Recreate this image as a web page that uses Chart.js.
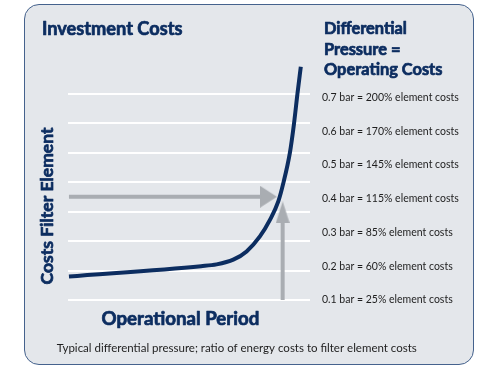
<!DOCTYPE html>
<html>
<head>
<meta charset="utf-8">
<script src="https://cdn.jsdelivr.net/npm/chart.js@4"></script>
<style>
  body { margin: 0; background: #fff; }
  #panel {
    position: absolute; left: 24px; top: 4px; width: 450px; height: 361px;
    box-sizing: border-box; border: 1.5px solid #45628d; border-radius: 15px;
    background: #e4e7eb;
  }
  #myChart { position: absolute; left: 0; top: 0; }
</style>
</head>
<body>
<div id="panel"></div>
<canvas id="myChart" width="500" height="375"></canvas>
<script>
// curve: operational period (0-100) vs cost level (grid units 0-7)
var curveX = [0.4, 55, 61.4, 68.3, 73.8, 79.3, 83.5, 86.9, 89.0, 91.7, 93.4, 94.8, 96.2];
var curveY = [0.80, 1.15, 1.21, 1.37, 1.65, 2.16, 2.73, 3.35, 3.98, 5.01, 6.00, 7.00, 7.93];

// grey arrows
var hArrowX = [0.4, 79.8];
var hArrowY = [3.51, 3.51];
var hHead = { x: 82.8, y: 3.51 };
var vArrowX = [88.7, 88.7];
var vArrowY = [0, 2.65];
var vHead = { x: 88.7, y: 2.98 };

// right-hand tick labels (differential pressure)
var pressureTicks = [0.1, 0.2, 0.3, 0.4, 0.5, 0.6, 0.7];
var pressureLabels = [
  '0.1 bar = 25% element costs',
  '0.2 bar = 60% element costs',
  '0.3 bar = 85% element costs',
  '0.4 bar = 115% element costs',
  '0.5 bar = 145% element costs',
  '0.6 bar = 170% element costs',
  '0.7 bar = 200% element costs'
];

var navy = '#0c2d60';
var grey = '#a9adb2';

function pts(xs, ys) {
  return xs.map(function (x, i) { return { x: x, y: ys[i] }; });
}

// arrow heads as small canvases used as point styles
function head(w, h, dir) {
  var c = document.createElement('canvas');
  c.width = w; c.height = h;
  var g = c.getContext('2d');
  g.fillStyle = grey;
  g.beginPath();
  if (dir === 'right') {
    g.moveTo(0, 0); g.lineTo(w, h / 2); g.lineTo(0, h);
  } else {
    g.moveTo(0, h); g.lineTo(w / 2, 0); g.lineTo(w, h);
  }
  g.closePath();
  g.fill();
  return c;
}

// heavy text: fill plus a thin stroke to thicken Lato Bold
function heavy(c, s, x, y) {
  c.fillText(s, x, y);
  c.strokeText(s, x, y);
}

var texts = {
  id: 'texts',
  afterDraw: function (chart) {
    var c = chart.ctx;
    c.save();
    c.fillStyle = navy;
    c.strokeStyle = navy;
    c.lineWidth = 0.7;
    c.lineJoin = 'round';
    c.textBaseline = 'alphabetic';
    c.textAlign = 'left';
    c.font = 'bold 18.2px Lato';
    heavy(c, 'Investment Costs', 42, 35);
    c.font = 'bold 16.4px Lato';
    heavy(c, 'Differential', 324, 34.3);
    heavy(c, 'Pressure =', 324, 54.6);
    heavy(c, 'Operating Costs', 324, 75);
    c.font = 'bold 18.7px Lato';
    heavy(c, 'Operational Period', 101.5, 325);
    c.save();
    c.translate(53.3, 206);
    c.rotate(-Math.PI / 2);
    c.textAlign = 'center';
    c.font = 'bold 17.5px Lato';
    heavy(c, 'Costs Filter Element', 0, 0);
    c.restore();
    c.fillStyle = '#1e1e1e';
    c.font = '11.5px Lato';
    c.fillText('Typical differential pressure; ratio of energy costs to filter element costs', 56.7, 351.7);
    c.restore();
  }
};

var ctx = document.getElementById('myChart').getContext('2d');
var myChart = new Chart(ctx, {
  type: 'line',
  data: {
    datasets: [{
      data: pts(curveX, curveY),
      borderColor: navy,
      borderWidth: 4,
      pointRadius: 0,
      cubicInterpolationMode: 'monotone',
      clip: false
    },
    {
      data: pts(hArrowX, hArrowY),
      borderColor: grey,
      borderWidth: 4,
      pointRadius: 0
    },
    {
      data: [hHead],
      showLine: false,
      pointStyle: head(17, 22, 'right'),
      pointRadius: 10
    },
    {
      data: pts(vArrowX, vArrowY),
      borderColor: grey,
      borderWidth: 4,
      pointRadius: 0
    },
    {
      data: [vHead],
      showLine: false,
      pointStyle: head(14, 22, 'up'),
      pointRadius: 10
    }]
  },
  options: {
    responsive: false,
    animation: false,
    layout: { padding: { left: 30, right: 30, top: 94, bottom: 20 } },
    plugins: { legend: { display: false }, tooltip: { enabled: false } },
    scales: {
      x: {
        type: 'linear', min: 0, max: 100,
        ticks: { display: false },
        grid: { display: false },
        border: { display: false },
        afterFit: function (s) { s.height = 55; }
      },
      y: {
        min: 0, max: 7,
        ticks: { display: false, stepSize: 1 },
        grid: { color: '#ffffff', lineWidth: 2, drawTicks: false },
        border: { display: false },
        afterFit: function (s) { s.width = 38; }
      },
      y2: {
        position: 'right',
        min: 0.1, max: 0.7105,
        afterBuildTicks: function (s) {
          s.ticks = pressureTicks.map(function (v) { return { value: v }; });
        },
        ticks: {
          padding: 12,
          color: '#1e1e1e',
          font: { family: 'Lato', size: 10.5 },
          callback: function (v, i) { return pressureLabels[i]; }
        },
        grid: { display: false, drawTicks: false },
        border: { display: false },
        afterFit: function (s) { s.width = 160; }
      }
    }
  },
  plugins: [texts]
});
</script>
</body>
</html>
